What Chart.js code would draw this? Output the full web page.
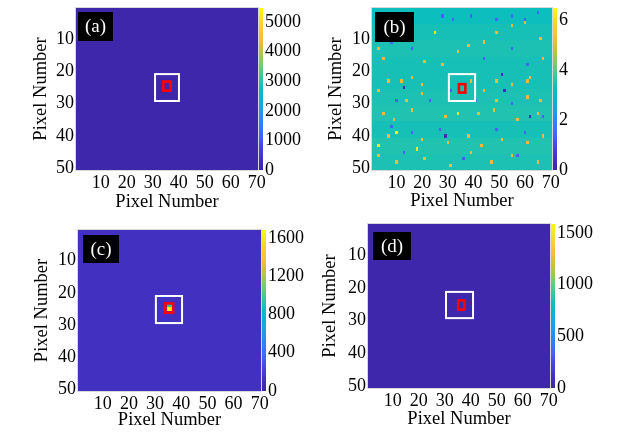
<!DOCTYPE html>
<html lang="en">
<head>
<meta charset="UTF-8">
<title>Pixel maps (a)-(d)</title>
<style>
  body { margin: 0; background: #fff; }
  #wrap { position: relative; width: 623px; height: 440px; }
  canvas { position: absolute; }
</style>
</head>
<body>
<div id="wrap">
  <canvas id="pa" width="311" height="220" style="left:0;top:0"></canvas>
  <canvas id="pb" width="312" height="220" style="left:311px;top:0"></canvas>
  <canvas id="pc" width="311" height="220" style="left:0;top:220px"></canvas>
  <canvas id="pd" width="312" height="220" style="left:311px;top:220px"></canvas>
</div>
<script src="https://cdn.jsdelivr.net/npm/chart.js@4"></script>
<script>
// grid size and axis ticks
const nCols = 70, nRows = 50;
const xTicks = [10, 20, 30, 40, 50, 60, 70];
const yTicks = [10, 20, 30, 40, 50];

// colorbar ticks and ranges
const cbTicksA = [0, 1000, 2000, 3000, 4000, 5000];
const cbTicksB = [0, 2, 4, 6];
const cbTicksC = [0, 400, 800, 1200, 1600];
const cbTicksD = [0, 500, 1000, 1500];
const cbMaxA = 5470, cbMaxB = 6.5, cbMaxC = 1683, cbMaxD = 1587;

// (a), (c), (d): flat background level
const backgroundA = 30;
const backgroundC = 115;
const backgroundD = 15;

// (c): bright spot inside the red box [col, row, value]
const spotC = [[35, 24, 900], [36, 24, 1000], [35, 25, 1650], [36, 25, 1600]];

// (b): background level per band of 5 rows
const bandsB = [3.3, 3.4, 3.45, 3.4, 3.4, 3.45, 3.5, 3.4, 3.5, 3.45];
// (b): single pixels that stand out [col, row]
const orangeB = [
  [3, 13], [5, 16], [21, 17], [28, 18], [34, 14], [38, 12], [44, 11], [49, 8], [55, 6], [60, 5],
  [66, 10], [67, 16], [62, 22], [7, 23], [12, 23], [16, 22], [20, 24], [39, 23], [49, 23], [55, 24],
  [61, 23], [3, 26], [14, 29], [20, 27], [44, 26], [49, 29], [61, 28], [66, 29], [5, 33], [9, 35],
  [16, 32], [29, 34], [42, 33], [48, 32], [57, 35], [65, 33], [7, 40], [20, 41], [30, 42], [38, 40],
  [43, 43], [51, 41], [61, 42], [67, 40], [3, 46], [10, 48], [21, 47], [31, 49], [39, 45], [47, 48],
  [55, 46], [65, 48]
];
const yellowB = [[3, 43], [25, 8], [34, 33], [10, 39], [18, 44]];
const darkB = [[29, 40], [13, 25], [52, 26], [62, 34], [51, 21]];
const blueB = [
  [28, 3], [32, 4], [39, 3], [49, 4], [55, 3], [60, 4], [65, 2], [9, 4], [8, 11], [16, 13],
  [44, 16], [55, 13], [61, 18], [10, 29], [31, 26], [55, 30], [8, 37], [16, 39], [27, 38], [49, 38],
  [60, 39], [67, 34], [13, 45], [36, 47], [57, 46], [23, 29], [41, 29]
];
const orangeValB = 5.2, yellowValB = 6.2, darkValB = 0.3, blueValB = 1.4;

// parula colormap anchors (every 0.05)
const parula = [
  [62, 38, 168], [65, 45, 185], [68, 56, 205], [72, 70, 226], [71, 92, 247], [60, 113, 254],
  [45, 132, 245], [37, 150, 233], [20, 167, 223], [8, 181, 210], [8, 189, 195], [40, 196, 170],
  [75, 201, 140], [118, 203, 110], [160, 201, 80], [205, 192, 58], [240, 187, 58], [252, 195, 55],
  [249, 210, 45], [245, 232, 32], [249, 251, 14]
];

function colorAt(t) {
  t = Math.max(0, Math.min(1, t));
  const f = t * (parula.length - 1);
  const i = Math.min(Math.floor(f), parula.length - 2);
  const k = f - i;
  const a = parula[i], b = parula[i + 1];
  return 'rgb(' + [0, 1, 2].map(j => Math.round(a[j] + (b[j] - a[j]) * k)).join(',') + ')';
}

function flatGrid(level) {
  const g = [];
  for (let r = 0; r < nRows; r++) g.push(new Array(nCols).fill(level));
  return g;
}

function bandGrid(bands) {
  const g = [];
  for (let r = 0; r < nRows; r++) g.push(new Array(nCols).fill(bands[Math.floor(r / 5)]));
  return g;
}

function setSpots(g, list, val) {
  list.forEach(s => { g[s[1] - 1][s[0] - 1] = (val === undefined ? s[2] : val); });
  return g;
}

const gridA = flatGrid(backgroundA);
const gridB = bandGrid(bandsB);
setSpots(gridB, blueB, blueValB);
setSpots(gridB, orangeB, orangeValB);
setSpots(gridB, yellowB, yellowValB);
setSpots(gridB, darkB, darkValB);
const gridC = setSpots(flatGrid(backgroundC), spotC);
const gridD = flatGrid(backgroundD);

const serif = "'Liberation Serif', 'Times New Roman', serif";

function panelPlugin(p) {
  return {
    id: 'panel' + p.letter,
    beforeDatasetsDraw(chart) {
      const ctx = chart.ctx, xs = chart.scales.x, ys = chart.scales.y;
      ctx.save();
      for (let r = 1; r <= nRows; r++) {
        const y0 = Math.round(ys.getPixelForValue(r - 0.5));
        const y1 = Math.round(ys.getPixelForValue(r + 0.5));
        for (let c = 1; c <= nCols; c++) {
          const x0 = Math.round(xs.getPixelForValue(c - 0.5));
          const x1 = Math.round(xs.getPixelForValue(c + 0.5));
          ctx.fillStyle = colorAt(p.grid[r - 1][c - 1] / p.cbMax);
          ctx.fillRect(x0, y0, x1 - x0, y1 - y0);
        }
      }
      // marker boxes in data units
      const box = (b, color, w) => {
        const x0 = xs.getPixelForValue(b[0]), x1 = xs.getPixelForValue(b[1]);
        const y0 = ys.getPixelForValue(b[2]), y1 = ys.getPixelForValue(b[3]);
        ctx.strokeStyle = color;
        ctx.lineWidth = w;
        ctx.strokeRect(x0, y0, x1 - x0, y1 - y0);
      };
      box(p.white, '#ffffff', 2);
      box(p.red, '#ff0000', 2.6);
      // panel letter
      const a = chart.chartArea;
      ctx.fillStyle = '#000';
      ctx.fillRect(a.left + p.tag[0], a.top + p.tag[1], p.tag[2], p.tag[3]);
      ctx.fillStyle = '#fff';
      ctx.font = '19px ' + serif;
      ctx.textAlign = 'center';
      ctx.textBaseline = 'middle';
      ctx.fillText('(' + p.letter + ')', a.left + p.tag[0] + p.tag[2] / 2, a.top + p.tag[1] + p.tag[3] / 2 + 1);
      ctx.restore();
    },
    afterDraw(chart) {
      const ctx = chart.ctx, cb = chart.scales.cb, a = chart.chartArea;
      const g = ctx.createLinearGradient(0, cb.bottom, 0, cb.top);
      parula.forEach((c, i) => g.addColorStop(i / (parula.length - 1), 'rgb(' + c.join(',') + ')'));
      ctx.save();
      ctx.fillStyle = g;
      ctx.fillRect(a.right + 1, cb.top, 4, cb.bottom - cb.top);
      ctx.strokeStyle = '#d8d8d8';
      ctx.lineWidth = 1;
      ctx.strokeRect(a.left - 0.5, a.top - 0.5, a.right - a.left + 1, a.bottom - a.top + 1);
      ctx.restore();
    }
  };
}

// keep the image area where it is measured, labels may overflow it
function noOverflow(s) {
  s.paddingTop = 0;
  s.paddingBottom = 0;
  s.paddingLeft = 0;
  s.paddingRight = 0;
}

function makePanel(id, p) {
  const tickFont = { family: serif, size: 18 };
  const titleFont = { family: serif, size: 18.5 };
  const canvas = document.getElementById(id);
  const plain = v => String(v);
  new Chart(canvas, {
    type: 'scatter',
    data: { datasets: [{ data: [] }] },
    options: {
      responsive: false,
      animation: false,
      events: [],
      layout: { padding: { top: p.area[1], left: 0, right: 0, bottom: 0 } },
      plugins: { legend: { display: false }, tooltip: { enabled: false } },
      scales: {
        x: {
          type: 'linear', min: 0.5, max: nCols + 0.5,
          afterBuildTicks: s => { s.ticks = xTicks.map(v => ({ value: v })); },
          afterFit: s => { s.height = canvas.height - p.area[3]; noOverflow(s); },
          grid: { display: false, drawTicks: false },
          border: { display: false },
          ticks: { font: tickFont, color: '#000', padding: 2, maxRotation: 0, autoSkip: false, callback: plain },
          title: { display: true, text: 'Pixel Number', font: titleFont, color: '#000', padding: { top: 0, bottom: p.titlePad[1] } }
        },
        y: {
          type: 'linear', reverse: true, min: 0.5, max: nRows + 0.5,
          afterBuildTicks: s => { s.ticks = yTicks.map(v => ({ value: v })); },
          afterFit: s => { s.width = p.area[0]; noOverflow(s); },
          grid: { display: false, drawTicks: false },
          border: { display: false },
          ticks: { font: tickFont, color: '#000', padding: 2, autoSkip: false, callback: plain },
          title: { display: true, text: 'Pixel Number', font: titleFont, color: '#000', padding: { top: p.titlePad[0], bottom: 0 } }
        },
        cb: {
          type: 'linear', position: 'right', min: 0, max: p.cbMax,
          afterBuildTicks: s => { s.ticks = p.cbTicks.map(v => ({ value: v })); },
          afterFit: s => { s.width = canvas.width - p.area[2]; noOverflow(s); },
          grid: { display: false, drawTicks: false },
          border: { display: false },
          ticks: { font: tickFont, color: '#000', padding: 7, autoSkip: false, callback: plain }
        }
      }
    },
    plugins: [panelPlugin(p)]
  });
}

// area: [left, top, right, bottom] of the image inside each panel canvas
makePanel('pa', {
  letter: 'a', grid: gridA, cbMax: cbMaxA, cbTicks: cbTicksA,
  area: [76, 8, 258, 170], titlePad: [30, 7], tag: [2, 4, 35, 29],
  white: [30.9, 40.1, 20.9, 29.2], red: [34.1, 36.9, 23.2, 26.0]
});
makePanel('pb', {
  letter: 'b', grid: gridB, cbMax: cbMaxB, cbTicks: cbTicksB,
  area: [61, 8, 241, 170], titlePad: [14, 8], tag: [3, 4, 39, 30],
  white: [30.4, 40.6, 20.9, 29.2], red: [34.3, 36.8, 24.0, 26.6]
});
makePanel('pc', {
  letter: 'c', grid: gridC, cbMax: cbMaxC, cbTicks: cbTicksC,
  area: [78, 10, 261, 171], titlePad: [31, 9], tag: [5, 5, 36, 28],
  white: [30.3, 40.3, 21.0, 29.4], red: [33.9, 36.9, 23.3, 26.2]
});
makePanel('pd', {
  letter: 'd', grid: gridD, cbMax: cbMaxD, cbTicks: cbTicksD,
  area: [57, 4, 239, 168], titlePad: [8, 10], tag: [5, 8, 38, 28],
  white: [30.5, 40.9, 21.2, 29.2], red: [35.2, 37.6, 23.8, 26.6]
});
</script>
</body>
</html>
